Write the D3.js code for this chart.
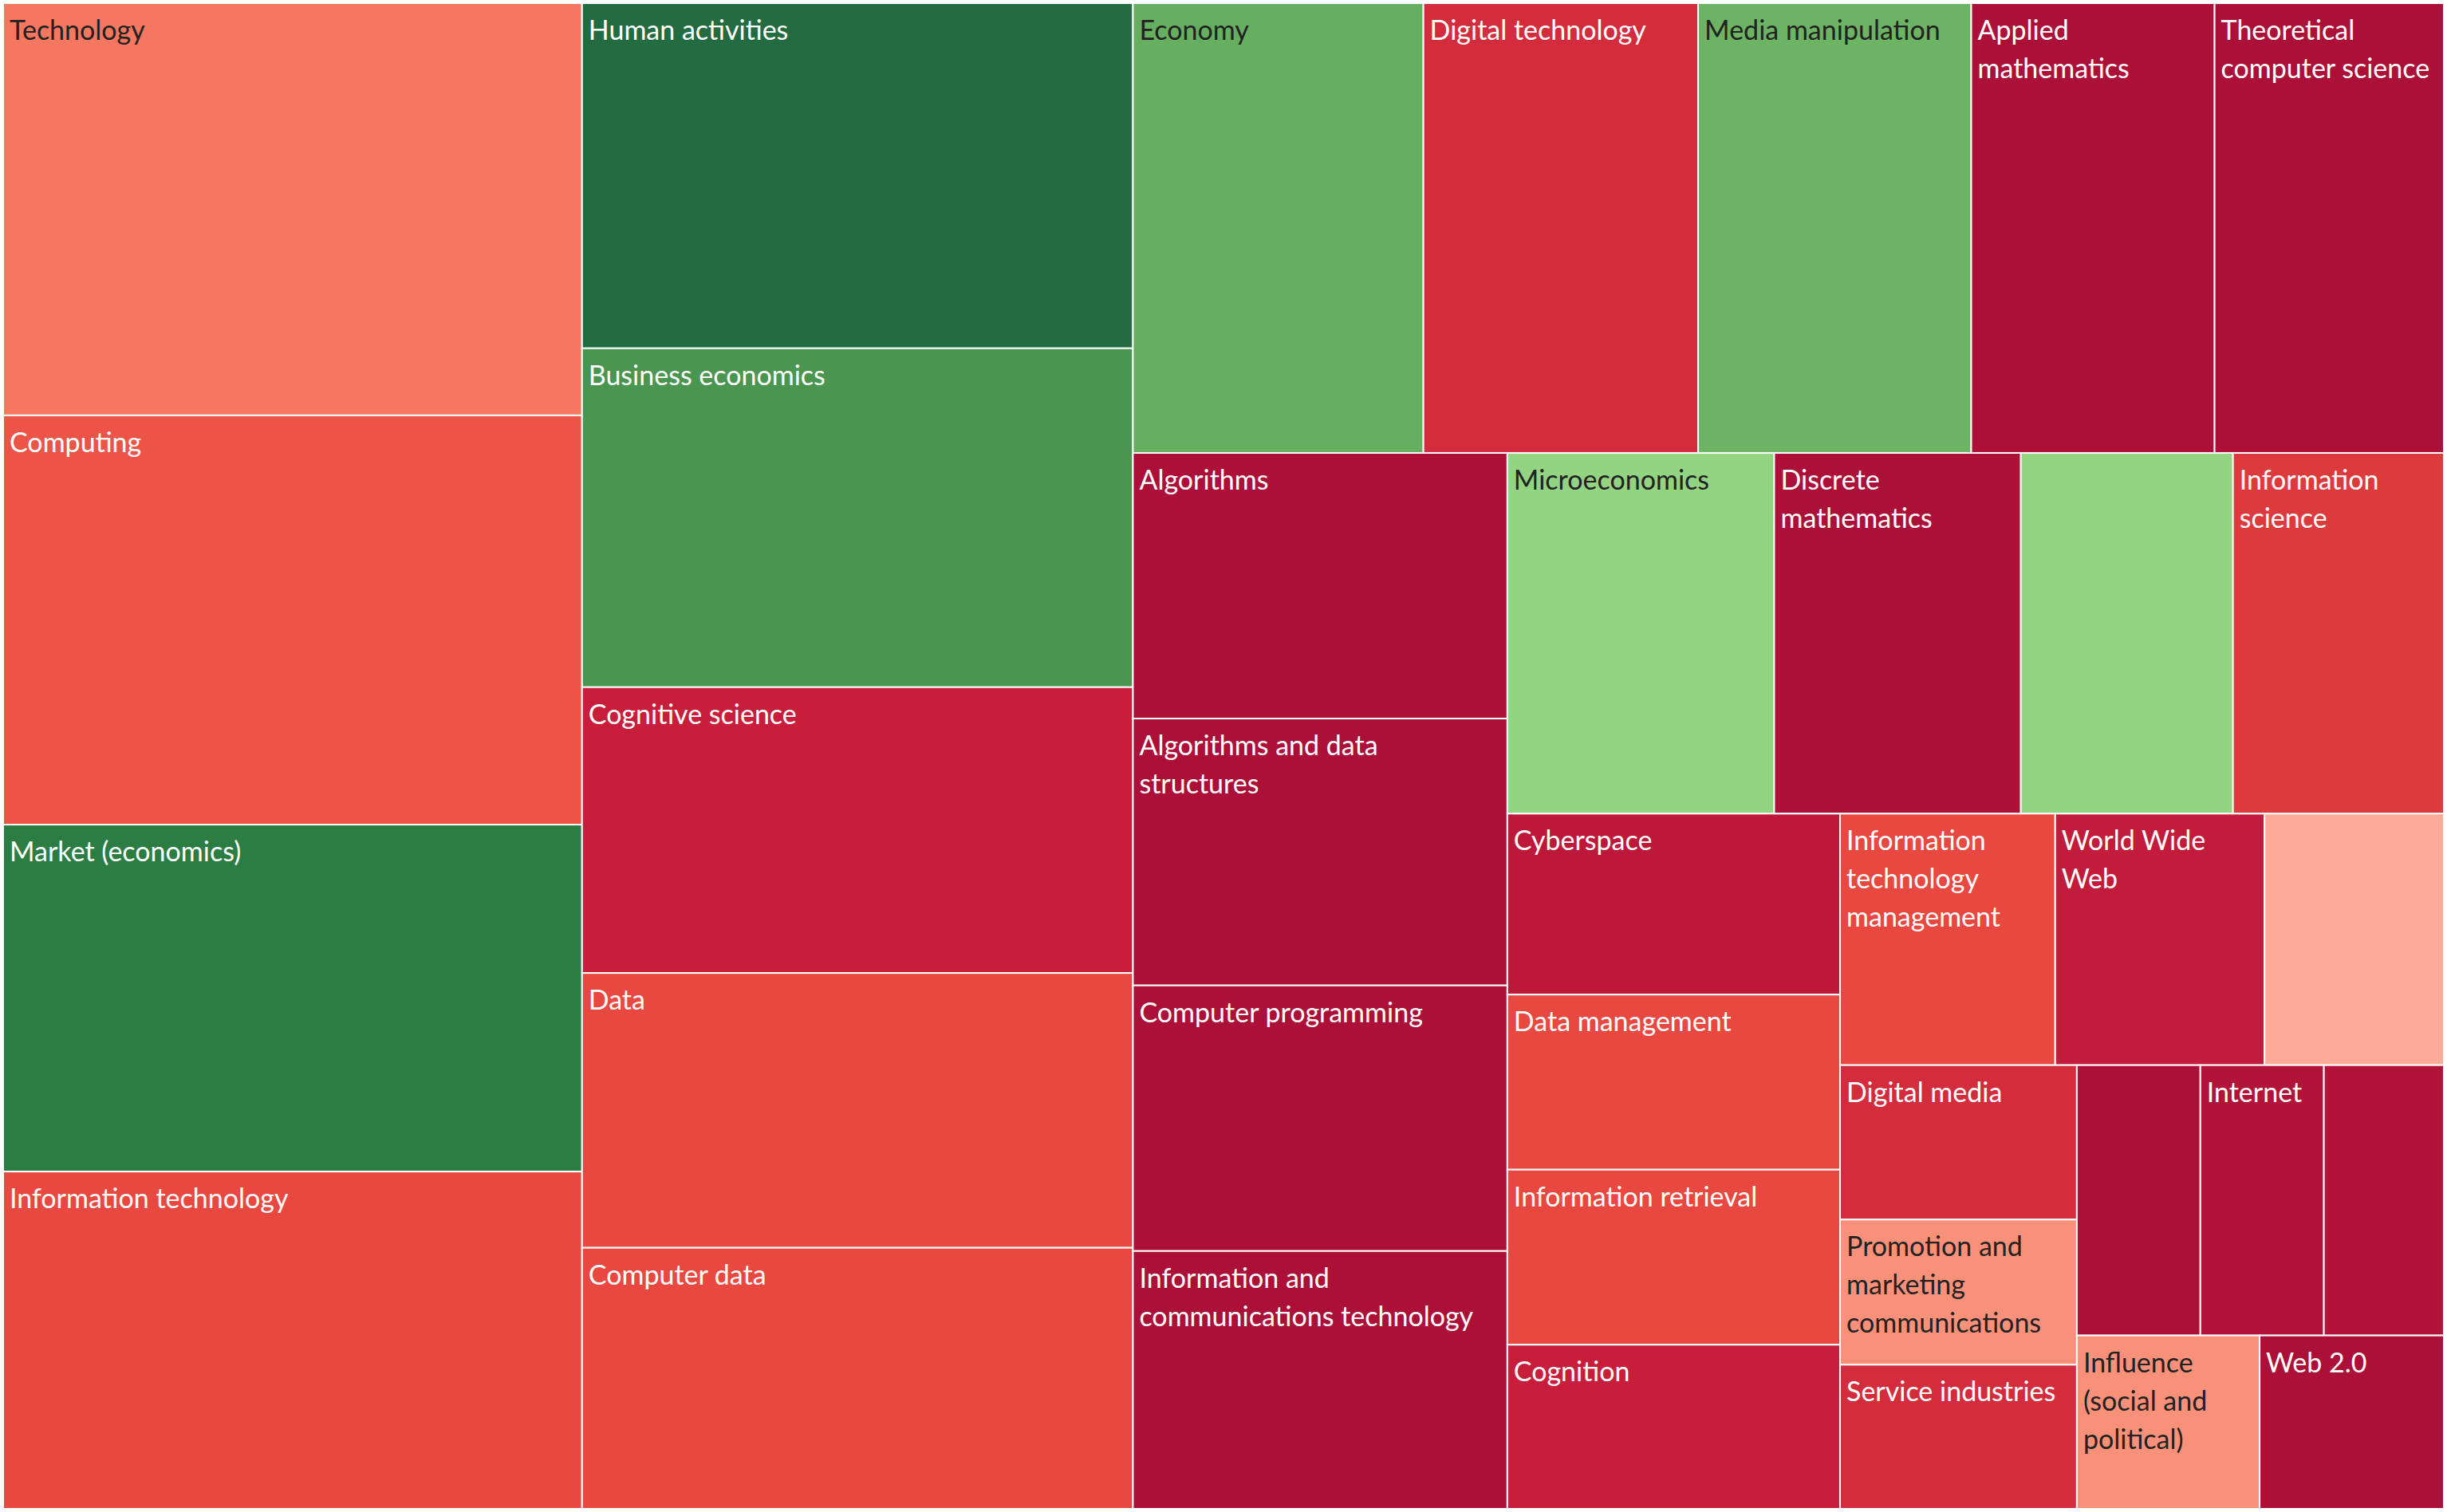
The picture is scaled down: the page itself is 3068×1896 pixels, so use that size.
<!DOCTYPE html>
<html>
<head>
<meta charset="utf-8">
<script src="https://cdn.jsdelivr.net/npm/d3@7"></script>
<style>
  body { margin: 0; background: #fff; }
  text { font-family: Lato, "Open Sans", sans-serif; }
</style>
</head>
<body>
<script>
// topic names, sizes and a colour score (-1 red .. +1 green)
var names = [
  'Technology', 'Computing', 'Market (economics)', 'Information technology',
  'Human activities', 'Business economics', 'Cognitive science', 'Data', 'Computer data',
  'Economy', 'Digital technology', 'Media manipulation', 'Applied mathematics', 'Theoretical computer science',
  'Algorithms', 'Algorithms and data structures', 'Computer programming', 'Information and communications technology',
  'Microeconomics', 'Discrete mathematics', '', 'Information science',
  'Cyberspace', 'Data management', 'Information retrieval', 'Cognition',
  'Information technology management', 'World Wide Web', '',
  'Digital media', 'Promotion and marketing communications', 'Service industries',
  '', 'Internet', '',
  'Influence (social and political)', 'Web 2.0'
];
var sizes = [
  97900, 97200, 82400, 80100,
  78000, 76600, 64600, 62100, 59000,
  53600, 50700, 50400, 44900, 42300,
  40800, 41000, 40800, 39600,
  39500, 36500, 31400, 31200,
  24700, 23900, 23900, 22400,
  22200, 21600, 18500,
  15000, 14100, 14000,
  13700, 13700, 13300,
  13000, 13100
];
var scores = [
  -0.25, -0.4, 0.9, -0.45,
  1.0, 0.7, -0.75, -0.45, -0.45,
  0.45, -0.65, 0.4, -1, -1,
  -1, -1, -1, -1,
  0.1, -1, 0.1, -0.55,
  -0.85, -0.45, -0.45, -0.75,
  -0.45, -0.8, -0.05,
  -0.65, -0.15, -0.65,
  -1, -0.95, -0.95,
  -0.15, -1
];
// how many cells go in each strip, and whether the strip is a column or a row
var strips = [4, 5, 5, 4, 4, 4, 3, 3, 3, 2];
var stripDir = ['col', 'col', 'row', 'col', 'row', 'col', 'row', 'col', 'row', 'row'];

var W = 3068, H = 1896, pad = 4;

var color = d3.scaleLinear()
  .domain([-1, -0.75, -0.45, -0.25, -0.15, -0.05, 0.1, 0.4, 0.7, 0.9, 1])
  .range(['#ac1038', '#c81e3c', '#e8483f', '#f6775f', '#f9917a', '#fcab98',
          '#92d481', '#6cb463', '#4a9651', '#2b7d43', '#236b41']);

var data = names.map(function(n, i) {
  return { name: n, value: sizes[i], score: scores[i] };
});

// tile strip by strip, using d3's slice / dice for each strip
function stripTile(parent, x0, y0, x1, y1) {
  var kids = parent.children, k = 0;
  var remaining = d3.sum(kids, function(d) { return d.value; });
  strips.forEach(function(n, s) {
    var group = kids.slice(k, k + n);
    k += n;
    var sum = d3.sum(group, function(d) { return d.value; });
    var fake = { children: group, value: sum };
    if (stripDir[s] === 'col') {
      var w = (s === strips.length - 1) ? x1 - x0 : sum / remaining * (x1 - x0);
      d3.treemapSlice(fake, x0, y0, x0 + w, y1);
      x0 += w;
    } else {
      var h = (s === strips.length - 1) ? y1 - y0 : sum / remaining * (y1 - y0);
      d3.treemapDice(fake, x0, y0, x1, y0 + h);
      y0 += h;
    }
    remaining -= sum;
  });
}

var root = d3.hierarchy({ children: data }).sum(function(d) { return d.value || 0; });
d3.treemap().size([W - 2 * pad, H - 2 * pad]).tile(stripTile)(root);

var svg = d3.select('body').append('svg')
  .attr('width', W).attr('height', H);

var cell = svg.selectAll('g.cell')
  .data(root.leaves())
  .enter().append('g')
  .attr('class', 'cell')
  .attr('transform', function(d) { return 'translate(' + (d.x0 + pad) + ',' + (d.y0 + pad) + ')'; });

cell.append('rect')
  .attr('width', function(d) { return d.x1 - d.x0; })
  .attr('height', function(d) { return d.y1 - d.y0; })
  .attr('fill', function(d) { return color(d.data.score); })
  .attr('stroke', '#fff')
  .attr('stroke-width', 2);

var fs = 34, lh = 48;
cell.each(function(d) {
  if (!d.data.name) return;
  var g = d3.select(this);
  var light = d.data.score > 0.05 && d.data.score < 0.5 || (d.data.score > -0.3 && d.data.score < 0);
  var t = g.append('text')
    .attr('x', 8).attr('y', 46)
    .attr('font-size', fs)
    .attr('fill', light ? '#222' : '#fff');
  var maxW = d.x1 - d.x0 - 16;
  var words = d.data.name.split(' '), line = [], lineNo = 0;
  var ts = t.append('tspan').attr('x', 8).attr('dy', 0);
  words.forEach(function(w) {
    line.push(w);
    ts.text(line.join(' '));
    if (ts.node().getComputedTextLength() > maxW && line.length > 1) {
      line.pop();
      ts.text(line.join(' '));
      line = [w];
      lineNo++;
      ts = t.append('tspan').attr('x', 8).attr('dy', lh).text(w);
    }
  });
});
</script>
</body>
</html>
